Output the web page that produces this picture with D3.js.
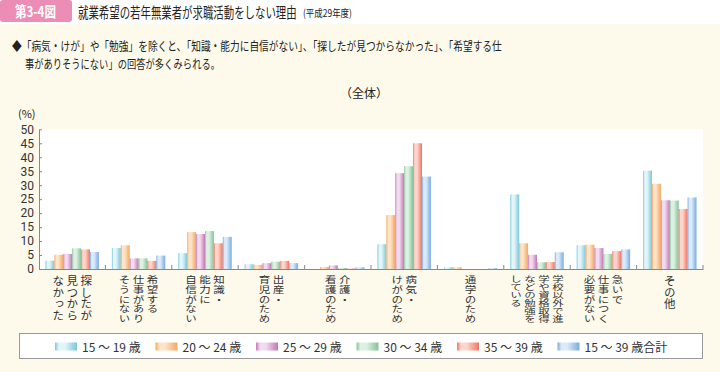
<!DOCTYPE html>
<html>
<head>
<meta charset="utf-8">
<script src="https://cdn.jsdelivr.net/npm/d3@7"></script>
<style>
  body { margin: 0; background: #fdfaeb; }
  svg { display: block; font-family: "Noto Sans CJK JP", "Noto Sans", sans-serif; }
</style>
</head>
<body>
<svg id="chart" width="720" height="372"></svg>
<script>
/* =========================
   DATA
========================= */
const categories = [
  ["探したが", "見つから", "なかった"],
  ["希望する", "仕事があり", "そうにない"],
  ["知識・", "能力に", "自信がない"],
  ["出産・", "育児のため"],
  ["介護・", "看護のため"],
  ["病気・", "けがのため"],
  ["通学のため"],
  ["学校以外で進", "学や資格取得", "などの勉強を", "している"],
  ["急いで", "仕事につく", "必要がない"],
  ["その他"]
];

const seriesNames = ["15 ～ 19 歳", "20 ～ 24 歳", "25 ～ 29 歳", "30 ～ 34 歳", "35 ～ 39 歳", "15 ～ 39 歳合計"];

const values15to19 = [3.0, 7.5, 5.7, 1.7, 0.0, 8.9, 0.6, 26.7, 8.5, 35.2];
const values20to24 = [5.1, 8.5, 13.2, 1.5, 0.7, 19.3, 0.6, 9.2, 8.7, 30.5];
const values25to29 = [5.4, 3.8, 12.5, 2.1, 1.3, 34.3, 0.0, 5.1, 7.5, 24.6];
const values30to34 = [7.4, 3.8, 13.6, 2.6, 0.4, 36.8, 0.0, 2.4, 5.4, 24.5];
const values35to39 = [7.0, 2.9, 9.2, 2.9, 0.2, 45.0, 0.0, 2.5, 6.4, 21.5];
const values15to39 = [6.1, 4.8, 11.5, 2.1, 0.6, 33.1, 0.3, 6.0, 7.0, 25.6];

const yTicks = [0, 5, 10, 15, 20, 25, 30, 35, 40, 45, 50];

const allValues = [values15to19, values20to24, values25to29, values30to34, values35to39, values15to39];

/* ===== colours: [edge, light] ===== */
const colors = [
  ["#78c8da", "#e4f5f9"],
  ["#f5a660", "#fde3c8"],
  ["#c277b4", "#f1dbee"],
  ["#82c497", "#ddf0e2"],
  ["#ef7561", "#fcd6cc"],
  ["#77ace2", "#dce9f8"]
];

/* =========================
   SETUP
========================= */
const svg = d3.select("#chart");
const plotLeft = 39, plotRight = 703, plotTop = 129.3, plotBottom = 269;

svg.append("rect").attr("width", 720).attr("height", 372).attr("fill", "#fdfaeb");
svg.append("rect").attr("width", 720).attr("height", 24).attr("fill", "#ffffff");

const defs = svg.append("defs");
colors.forEach((c, i) => {
  const g = defs.append("linearGradient").attr("id", "grad" + i)
    .attr("x1", "0%").attr("x2", "100%").attr("y1", "0%").attr("y2", "0%");
  g.append("stop").attr("offset", "0%").attr("stop-color", c[0]);
  g.append("stop").attr("offset", "18%").attr("stop-color", c[1]);
  g.append("stop").attr("offset", "45%").attr("stop-color", c[1]);
  g.append("stop").attr("offset", "100%").attr("stop-color", c[0]);
});

// squeeze a text horizontally so it spans `width`
function fitText(x, yPos, str, size, width, opts = {}) {
  const t = svg.append("text").attr("font-size", size)
    .attr("fill", opts.fill || "#222")
    .attr("font-weight", opts.weight || null)
    .text(str);
  const w = t.node().getComputedTextLength();
  t.attr("transform", `translate(${x},${yPos}) scale(${width / w},1)`);
  return t;
}

/* ===== title ===== */
svg.append("rect").attr("x", 0).attr("y", 0).attr("width", 72).attr("height", 22)
  .attr("rx", 3).attr("fill", "#ec8db6");
fitText(15, 17, "第3-4図", 14.5, 41, { fill: "#fff", weight: "bold" });
fitText(78, 17.5, "就業希望の若年無業者が求職活動をしない理由", 14.5, 219);
fitText(303, 16.5, "(平成29年度)", 10.5, 49);

fitText(12, 50.8, "◆「病気・けが」や「勉強」を除くと、「知識・能力に自信がない」、「探したが見つからなかった」、「希望する仕", 12.5, 490);
fitText(25, 69, "事がありそうにない」の回答が多くみられる。", 12.5, 195);

svg.append("text").attr("x", 364).attr("y", 98).attr("text-anchor", "middle")
  .attr("fill", "#222").attr("font-size", 12).text("（全体）");
svg.append("text").attr("x", 18).attr("y", 118).attr("fill", "#222")
  .attr("font-size", 11).text("(%)");

/* =========================
   SCALES
========================= */
const idx = d3.range(categories.length);
const x0 = d3.scaleBand().domain(idx).range([plotLeft, plotRight]).padding(0);
const x1 = d3.scaleBand().domain(d3.range(seriesNames.length))
  .range([0, x0.bandwidth()]).paddingInner(0).paddingOuter(0.73);
const y = d3.scaleLinear().domain([0, 50]).range([plotBottom, plotTop]);

svg.append("rect").attr("x", plotLeft).attr("y", plotTop)
  .attr("width", plotRight - plotLeft).attr("height", plotBottom - plotTop).attr("fill", "#fff");

/* ===== bars ===== */
const groups = svg.append("g").selectAll("g").data(idx).join("g")
  .attr("transform", (i) => `translate(${x0(i)},0)`);

groups.selectAll("rect")
  .data((i) => allValues.map((v, s) => ({ s, v: v[i] })))
  .join("rect")
  .attr("x", (d) => x1(d.s))
  .attr("y", (d) => y(d.v))
  .attr("width", x1.bandwidth())
  .attr("height", (d) => plotBottom - y(d.v))
  .attr("fill", (d) => `url(#grad${d.s})`);

/* ===== axes ===== */
const yAxis = svg.append("g").attr("transform", `translate(${plotLeft},0)`)
  .call(d3.axisLeft(y).tickValues(yTicks).tickSizeInner(-3).tickSizeOuter(0).tickPadding(5));
yAxis.select(".domain").attr("stroke", "#888");
yAxis.selectAll(".tick line").attr("stroke", "#888");
yAxis.selectAll(".tick text").attr("fill", "#333").attr("font-size", 12)
  .attr("font-family", "Roboto, 'Noto Sans', sans-serif");

const xAxis = svg.append("g").attr("transform", `translate(0,${plotBottom})`)
  .call(d3.axisBottom(x0).tickSize(0).tickFormat(""));
xAxis.select(".domain").attr("stroke", "#888");

const bounds = idx.slice(1).map((i) => x0(i)).concat([plotRight]);
svg.append("g").selectAll("line").data(bounds).join("line")
  .attr("x1", (d) => d).attr("x2", (d) => d)
  .attr("y1", plotBottom).attr("y2", plotBottom - 4)
  .attr("stroke", "#888");

/* ===== vertical category labels, one glyph per text, squeezed to fit ===== */
const fs = 11.5;
const labelG = svg.append("g").attr("fill", "#333").attr("font-size", fs);
categories.forEach((lines, i) => {
  const cx = x0(i) + x0.bandwidth() / 2;
  const maxLen = d3.max(lines, (l) => l.length);
  const step = Math.min(11.6, 48 / maxLen);
  lines.forEach((line, j) => {
    const colX = cx + ((lines.length - 1) / 2 - j) * 14;
    Array.from(line).forEach((ch, k) => {
      labelG.append("text")
        .attr("transform", `translate(${colX},${275 + k * step}) scale(1,${step / fs})`)
        .style("writing-mode", "vertical-rl")
        .text(ch);
    });
  });
});

/* ===== legend ===== */
svg.append("rect").attr("x", 19.5).attr("y", 333.5).attr("width", 683).attr("height", 25)
  .attr("fill", "#fff").attr("stroke", "#999");

const legend = svg.append("g").selectAll("g").data(seriesNames).join("g")
  .attr("transform", (d, i) => `translate(${55 + i * 100.5},342.5)`);
legend.append("rect").attr("width", 22).attr("height", 8)
  .attr("fill", (d, i) => `url(#grad${i})`);
legend.append("text").attr("x", 27).attr("y", 4).attr("dominant-baseline", "central")
  .attr("font-size", 12).attr("fill", "#333").text((d) => d);
</script>
</body>
</html>
